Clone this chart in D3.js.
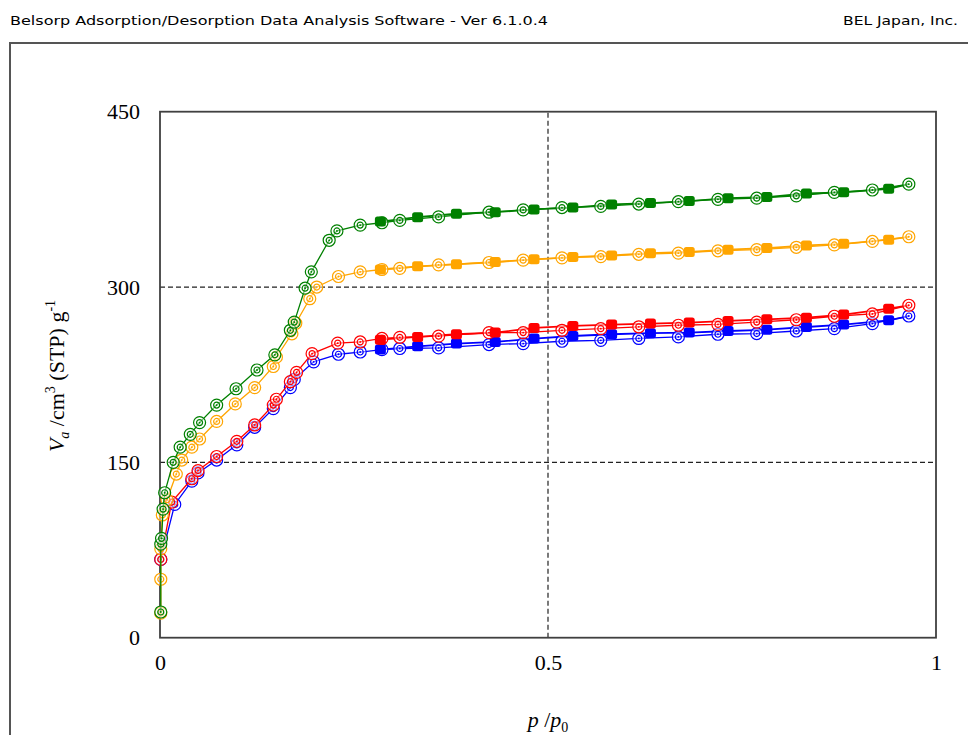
<!DOCTYPE html>
<html>
<head>
<meta charset="utf-8">
<script src="https://cdn.jsdelivr.net/npm/d3@7/dist/d3.min.js"></script>
<style>
  body { margin: 0; background: #fff; }
  svg { display: block; }
</style>
</head>
<body>
<script>
// isotherm data, [p/p0, Va]
const greenAds = [[0.001,22],[0.001,80],[0.002,85],[0.004,110],[0.006,124],[0.017,150],[0.026,163],[0.039,174],[0.051,184],[0.073,199],[0.098,213],[0.125,229],[0.148,242],[0.168,263],[0.173,270],[0.187,299],[0.195,313],[0.218,340],[0.228,348],[0.258,353],[0.286,355],[0.309,357],[0.359,360],[0.424,364],[0.468,366],[0.518,368],[0.568,369],[0.617,371],[0.668,373],[0.719,375],[0.769,376],[0.820,378],[0.869,381],[0.918,383],[0.965,388]];
const greenDes = [[0.939,384],[0.881,381],[0.833,380],[0.782,377],[0.732,376],[0.682,373.5],[0.632,371.8],[0.582,370.7],[0.532,368],[0.482,366.4],[0.432,364],[0.382,362.7],[0.332,359.8],[0.284,356]];

const orangeAds = [[0.001,21],[0.001,50],[0.001,76],[0.003,105],[0.009,118],[0.021,140],[0.028,152],[0.041,163],[0.051,170],[0.073,185],[0.097,200],[0.122,214],[0.146,232],[0.150,240],[0.170,260],[0.175,269],[0.193,290],[0.202,300],[0.230,309],[0.258,313],[0.286,315],[0.309,316],[0.359,319],[0.424,321],[0.468,323],[0.518,325],[0.568,326],[0.617,328],[0.668,329],[0.719,331],[0.769,332],[0.820,334],[0.869,336],[0.918,339],[0.965,343]];
const orangeDes = [[0.939,340.5],[0.881,337],[0.833,335.6],[0.782,333.3],[0.732,332],[0.682,330],[0.632,329],[0.582,327],[0.532,325.6],[0.482,323.7],[0.432,321.4],[0.382,319.4],[0.332,317.7],[0.284,315]];

const redAds = [[0.001,67],[0.015,116],[0.041,136],[0.049,143],[0.073,155],[0.099,168],[0.122,182],[0.146,199],[0.150,204],[0.168,219],[0.176,227],[0.196,243],[0.229,252],[0.258,253],[0.286,256],[0.309,257],[0.359,258],[0.424,261],[0.468,261],[0.518,263],[0.568,264.4],[0.617,266],[0.668,267.3],[0.719,268],[0.769,270],[0.820,272],[0.869,275],[0.918,277],[0.965,284.4]];
const redDes = [[0.939,281.5],[0.881,276.4],[0.833,273.8],[0.782,272.4],[0.732,271],[0.682,269.6],[0.632,268.7],[0.582,267.9],[0.532,266.7],[0.482,265],[0.432,261],[0.382,259.6],[0.332,257.3],[0.284,255]];

const blueAds = [[0.001,67],[0.019,114],[0.041,134],[0.049,141],[0.073,152],[0.099,165],[0.122,180],[0.146,196],[0.168,214],[0.173,221],[0.198,236],[0.230,242.5],[0.258,244.4],[0.286,246.5],[0.309,247.4],[0.359,247.9],[0.424,250.8],[0.468,251.6],[0.518,253.6],[0.568,254.4],[0.617,256],[0.668,257.3],[0.719,259.6],[0.769,260.2],[0.820,262.4],[0.869,264.4],[0.918,268.7],[0.965,275.2]];
const blueDes = [[0.939,271.5],[0.881,267.9],[0.833,265.8],[0.782,263.5],[0.732,262.4],[0.682,261],[0.632,260.5],[0.582,259.6],[0.532,258.1],[0.482,255.9],[0.432,253],[0.382,251.6],[0.332,249.3],[0.284,246.5]];

const yTicks = [0, 150, 300, 450];
const xTicks = [0, 0.5, 1];

// drawing order: last one ends on top
const series = [
  {color: "#0000ff", ads: blueAds, des: blueDes},
  {color: "#ff0000", ads: redAds, des: redDes},
  {color: "#ffa500", ads: orangeAds, des: orangeDes},
  {color: "#008000", ads: greenAds, des: greenDes}
];

var W = 968, H = 735;
var svg = d3.select("body").append("svg")
    .attr("width", W)
    .attr("height", H);

// header
svg.append("text")
    .attr("x", 10).attr("y", 25)
    .attr("font-family", "DejaVu Sans Condensed, DejaVu Sans")
    .attr("font-size", "13px")
    .attr("fill", "#000")
    .attr("textLength", 538).attr("lengthAdjust", "spacingAndGlyphs")
    .text("Belsorp Adsorption/Desorption Data Analysis Software - Ver 6.1.0.4");

svg.append("text")
    .attr("x", 958).attr("y", 25)
    .attr("text-anchor", "end")
    .attr("font-family", "DejaVu Sans Condensed, DejaVu Sans")
    .attr("font-size", "13px")
    .attr("fill", "#000")
    .attr("textLength", 115).attr("lengthAdjust", "spacingAndGlyphs")
    .text("BEL Japan, Inc.");

// outer panel
svg.append("rect")
    .attr("x", 10).attr("y", 43)
    .attr("width", 1000).attr("height", 800)
    .attr("fill", "none")
    .attr("stroke", "#555")
    .attr("stroke-width", 2);

var x = d3.scaleLinear().domain([0, 1]).range([160, 936]);
var y = d3.scaleLinear().domain([0, 450]).range([637.7, 111.7]);

// dashed grid
var grid = svg.append("g")
    .attr("stroke", "#222")
    .attr("stroke-width", 1.2)
    .attr("stroke-dasharray", "5,3");

grid.selectAll(".gy")
    .data([150, 300])
    .enter().append("line")
    .attr("x1", x(0)).attr("x2", x(1))
    .attr("y1", d => y(d)).attr("y2", d => y(d));

grid.append("line")
    .attr("x1", x(0.5)).attr("x2", x(0.5))
    .attr("y1", y(0)).attr("y2", y(450));

// plot frame
svg.append("rect")
    .attr("x", x(0)).attr("y", y(450))
    .attr("width", x(1) - x(0)).attr("height", y(0) - y(450))
    .attr("fill", "none")
    .attr("stroke", "#404040")
    .attr("stroke-width", 1.8);

// axes (labels only)
var yAxis = svg.append("g")
    .attr("transform", "translate(" + x(0) + ",0)")
    .call(d3.axisLeft(y).tickValues(yTicks).tickSize(0).tickPadding(20).tickFormat(d3.format("d")));
yAxis.select(".domain").remove();
yAxis.selectAll("text")
    .attr("font-family", "Liberation Serif, serif")
    .attr("font-size", "22px")
    .attr("fill", "#000");

var xAxis = svg.append("g")
    .attr("transform", "translate(0," + y(0) + ")")
    .call(d3.axisBottom(x).tickValues(xTicks).tickSize(0).tickPadding(17).tickFormat(d => d === 0.5 ? "0.5" : d3.format("d")(d)));
xAxis.select(".domain").remove();
xAxis.selectAll("text")
    .attr("font-family", "Liberation Serif, serif")
    .attr("font-size", "22px")
    .attr("fill", "#000");

// axis titles
var yl = svg.append("text")
    .attr("transform", "translate(64,376) rotate(-90)")
    .attr("text-anchor", "middle")
    .attr("font-family", "Liberation Serif, serif")
    .attr("font-size", "22px")
    .attr("fill", "#000");
yl.append("tspan").attr("font-style", "italic").text("V");
yl.append("tspan").attr("font-style", "italic").attr("font-size", "14px").attr("dy", 5).text("a");
yl.append("tspan").attr("dy", -5).text(" /cm");
yl.append("tspan").attr("font-size", "14px").attr("dy", -9).text("3");
yl.append("tspan").attr("dy", 9).text(" (STP) g");
yl.append("tspan").attr("font-size", "14px").attr("dy", -9).text("-1");

var xl = svg.append("text")
    .attr("x", 548).attr("y", 727)
    .attr("text-anchor", "middle")
    .attr("font-family", "Liberation Serif, serif")
    .attr("font-size", "22px")
    .attr("fill", "#000");
xl.append("tspan").attr("font-style", "italic").text("p");
xl.append("tspan").text(" /");
xl.append("tspan").attr("font-style", "italic").text("p");
xl.append("tspan").attr("font-size", "14px").attr("dy", 5).text("0");

// curves and markers
var line = d3.line().x(d => x(d[0])).y(d => y(d[1]));

series.forEach(function(s) {
    var g = svg.append("g");
    var last = s.ads[s.ads.length - 1];

    g.append("path")
        .datum(s.ads)
        .attr("d", line)
        .attr("fill", "none")
        .attr("stroke", s.color)
        .attr("stroke-width", 1.3);

    g.append("path")
        .datum([last].concat(s.des))
        .attr("d", line)
        .attr("fill", "none")
        .attr("stroke", s.color)
        .attr("stroke-width", 1.8);

    // adsorption: double circles
    var m = g.selectAll(".ads")
        .data(s.ads)
        .enter().append("g")
        .attr("class", "ads")
        .attr("transform", d => "translate(" + x(d[0]) + "," + y(d[1]) + ")");
    m.append("circle").attr("r", 6)
        .attr("fill", "#fff").attr("fill-opacity", 0.5)
        .attr("stroke", s.color).attr("stroke-width", 1.2);
    m.append("circle").attr("r", 3)
        .attr("fill", "none")
        .attr("stroke", s.color).attr("stroke-width", 1.2);
    m.append("circle").attr("r", 0.9)
        .attr("fill", s.color);

    // desorption: filled squares
    g.selectAll(".des")
        .data(s.des)
        .enter().append("rect")
        .attr("class", "des")
        .attr("x", d => x(d[0]) - 5.5)
        .attr("y", d => y(d[1]) - 5)
        .attr("width", 11).attr("height", 10)
        .attr("rx", 2.5)
        .attr("fill", s.color);
});
</script>
</body>
</html>
